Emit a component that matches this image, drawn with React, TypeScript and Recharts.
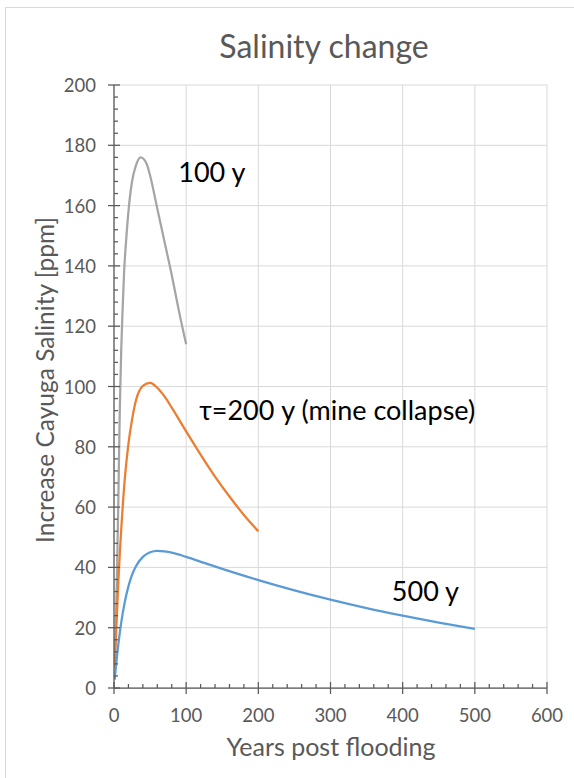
import { LineChart, Line, XAxis, YAxis, CartesianGrid, ReferenceDot } from 'recharts';

// tau = 100 y
const years100 = [1, 2, 4, 6, 8, 10, 12, 14, 17, 20, 25, 30, 37, 45, 50, 60, 70, 80, 90, 100];
const salinity100 = [8, 16, 36, 62, 92, 112, 126, 138, 149, 158, 168, 173, 176, 174, 170, 159, 148, 137, 125, 114];

// tau = 200 y (mine collapse)
const years200 = [1, 2, 4, 6, 8, 10, 15, 20, 25, 30, 40, 50, 60, 70, 80, 100, 120, 140, 160, 180, 200];
const salinity200 = [6.9, 13, 24, 35, 44.5, 52.5, 69.5, 81, 89, 95, 100.2, 101.2, 99.6, 96.7, 93, 85.1, 77.4, 70.1, 63.5, 57.4, 52];

// tau = 500 y
const years500 = [1, 2, 4, 6, 8, 10, 15, 20, 25, 30, 40, 50, 60, 70, 80, 100, 125, 150, 200, 250, 300, 350, 400, 450, 500];
const salinity500 = [2.8, 5.4, 10.2, 14.5, 18.3, 21.7, 28.6, 33.7, 37.5, 40.2, 43.5, 45, 45.5, 45.3, 44.9, 43.5, 41.5, 39.5, 35.8, 32.4, 29.3, 26.5, 24, 21.7, 19.6];

const xMajor = [0, 100, 200, 300, 400, 500, 600];
const yMajor = [0, 20, 40, 60, 80, 100, 120, 140, 160, 180, 200];
const xTicks = Array.from({ length: 31 }, (_, i) => i * 20);
const yTicks = Array.from({ length: 51 }, (_, i) => i * 4);

const toRows = (xs: number[], ys: number[]) => xs.map((t, i) => ({ t, v: ys[i] }));
const data100 = toRows(years100, salinity100);
const data200 = toRows(years200, salinity200);
const data500 = toRows(years500, salinity500);

const AXIS = '#595959';
const TEXT = '#595959';
const FONT = 'Lato, "Open Sans", sans-serif';

function XTick({ x, y, payload }: any) {
  const v = payload.value;
  const major = v % 100 === 0;
  return (
    <g>
      {major ? (
        <line x1={x} x2={x} y1={y - 6} y2={y + 6} stroke={AXIS} strokeWidth={1.25} />
      ) : (
        <line x1={x} x2={x} y1={y - 4} y2={y} stroke={AXIS} strokeWidth={1.25} />
      )}
      {major && (
        <text x={x} y={y + 27} textAnchor="middle" dominantBaseline="central" fill={TEXT} fontSize={18.5} fontFamily={FONT}>
          {v}
        </text>
      )}
    </g>
  );
}

function YTick({ x, y, payload }: any) {
  const v = payload.value;
  const major = v % 20 === 0;
  return (
    <g>
      {major ? (
        <line x1={x - 6} x2={x + 6} y1={y} y2={y} stroke={AXIS} strokeWidth={1.25} />
      ) : (
        <line x1={x} x2={x + 4} y1={y} y2={y} stroke={AXIS} strokeWidth={1.25} />
      )}
      {major && (
        <text x={x - 18} y={y} textAnchor="end" dominantBaseline="central" fill={TEXT} fontSize={18.5} fontFamily={FONT}>
          {v}
        </text>
      )}
    </g>
  );
}

const noteStyle = { fill: '#000', fontSize: 27, fontFamily: FONT };

export default function App() {
  return (
    <div
      style={{
        position: 'absolute',
        left: 5,
        top: 7,
        width: 568,
        height: 772,
        border: '1px solid #d9d9d9',
        background: '#fff',
        fontFamily: FONT,
      }}
    >
      <div style={{ position: 'absolute', left: 318, top: 38, transform: 'translate(-50%, -50%)', fontSize: 32, lineHeight: 1, color: TEXT, whiteSpace: 'nowrap' }}>
        Salinity change
      </div>
      <div style={{ position: 'absolute', left: 39, top: 372, transform: 'translate(-50%, -50%) rotate(-90deg)', fontSize: 24.5, lineHeight: 1, color: TEXT, whiteSpace: 'nowrap' }}>
        Increase Cayuga Salinity [ppm]
      </div>
      <div style={{ position: 'absolute', left: 325, top: 738, transform: 'translate(-50%, -50%)', fontSize: 25, lineHeight: 1, color: TEXT, whiteSpace: 'nowrap' }}>
        Years post flooding
      </div>
      <LineChart width={568} height={772} margin={{ top: 77, right: 27, bottom: 0, left: 0 }}>
        <CartesianGrid stroke="#d9d9d9" strokeWidth={1} horizontalValues={yMajor} verticalValues={xMajor} />
        <XAxis
          type="number"
          dataKey="t"
          domain={[0, 600]}
          ticks={xTicks}
          interval={0}
          height={92}
          tickSize={0}
          tickMargin={0}
          tickLine={false}
          axisLine={{ stroke: AXIS, strokeWidth: 1.25 }}
          tick={<XTick />}
          allowDataOverflow
        />
        <YAxis
          type="number"
          dataKey="v"
          domain={[0, 200]}
          ticks={yTicks}
          interval={0}
          width={108}
          tickSize={0}
          tickMargin={0}
          tickLine={false}
          axisLine={{ stroke: AXIS, strokeWidth: 1.25 }}
          tick={<YTick />}
          allowDataOverflow
        />
        <Line data={data100} dataKey="v" type="monotone" stroke="#a5a5a5" strokeWidth={2.25} dot={false} isAnimationActive={false} />
        <Line data={data200} dataKey="v" type="monotone" stroke="#ed7d31" strokeWidth={2.25} dot={false} isAnimationActive={false} />
        <Line data={data500} dataKey="v" type="monotone" stroke="#5b9bd5" strokeWidth={2.25} dot={false} isAnimationActive={false} />
        <ReferenceDot x={89} y={171} r={0} fill="none" stroke="none" label={{ value: '100 y', position: 'right', offset: 0, ...noteStyle }} />
        <ReferenceDot x={118} y={92} r={0} fill="none" stroke="none" label={{ value: 'τ=200 y (mine collapse)', position: 'right', offset: 0, ...noteStyle }} />
        <ReferenceDot x={385} y={32} r={0} fill="none" stroke="none" label={{ value: '500 y', position: 'right', offset: 0, ...noteStyle }} />
      </LineChart>
    </div>
  );
}
